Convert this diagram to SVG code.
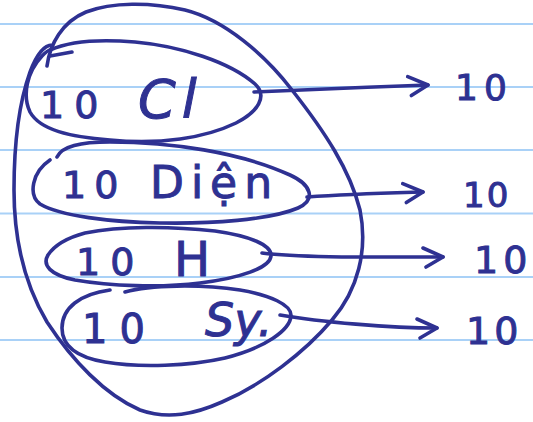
<svg xmlns="http://www.w3.org/2000/svg" width="533" height="422" viewBox="0 0 533 422">
  <defs>
    <style>
      .rule { stroke: #a9d1f7; stroke-width: 2; }
      .ink { fill: none; stroke: #2e3192; stroke-width: 3.6; stroke-linecap: round; stroke-linejoin: round; }
      .hand { fill: #2e3192; stroke: #2e3192; stroke-width: 1; font-family: "DejaVu Sans", "Liberation Sans", sans-serif; }
    </style>
    <marker id="head" markerUnits="userSpaceOnUse" markerWidth="30" markerHeight="30" refX="0" refY="0" viewBox="-24 -15 30 30" orient="auto" overflow="visible">
      <path d="M -20,-9 L 0,0 L -17,10" fill="none" stroke="#2e3192" stroke-width="3.6" stroke-linecap="round" stroke-linejoin="round"/>
    </marker>
  </defs>

  <rect width="533" height="422" fill="#ffffff"/>

  <!-- ruled paper -->
  <g id="paper">
    <line class="rule" x1="0" y1="24" x2="533" y2="24"/>
    <line class="rule" x1="0" y1="87" x2="533" y2="87"/>
    <line class="rule" x1="0" y1="150" x2="533" y2="150"/>
    <line class="rule" x1="0" y1="213.5" x2="533" y2="213.5"/>
    <line class="rule" x1="0" y1="277" x2="533" y2="277"/>
    <line class="rule" x1="0" y1="340" x2="533" y2="340"/>
  </g>

  <!-- enclosing loop around the four groups -->
  <g id="set">
    <path class="ink" d="M 47,66 C 50,44 62,22 86,12 C 112,2 150,2 185,10 C 225,20 265,55 292,90 C 325,132 350,170 360,210 C 368,250 358,290 332,320 C 305,352 262,385 222,402 C 195,414 168,420 140,410 C 105,395 72,360 47,322 C 25,285 14,240 14,190 C 14,140 20,100 30,72 C 36,56 44,45 52,45"/>
    <path class="ink" d="M 50,56 L 72,52"/>
  </g>

  <g id="group1">
    <path class="ink" d="M 50,50 C 70,41 100,39 135,42 C 180,46 230,62 255,84 C 268,96 258,112 236,123 C 205,138 160,145 110,140 C 70,137 40,130 30,112 C 22,95 27,72 42,56 C 46,52 48,50 50,50"/>
    <text class="hand" font-size="38"><tspan x="40" y="118">1</tspan><tspan dx="10">0</tspan></text>
    <text class="hand" font-size="54" letter-spacing="6" font-style="italic"><tspan x="138" y="118">Cl</tspan></text>
  </g>

  <g id="group2">
    <path class="ink" d="M 57,157 C 62,146 80,142 110,142 C 170,142 240,152 290,175 C 312,185 316,200 298,208 C 270,220 210,224 160,223 C 110,222 60,216 40,204 C 28,195 32,172 50,160"/>
    <text class="hand" font-size="38"><tspan x="62" y="198">1</tspan><tspan dx="8">0</tspan></text>
    <text class="hand" font-size="44" letter-spacing="7"><tspan x="150" y="198">Diện</tspan></text>
  </g>

  <g id="group3">
    <path class="ink" d="M 85,233 C 120,226 170,226 215,231 C 250,236 272,245 271,256 C 270,268 240,278 200,283 C 160,288 110,286 75,280 C 50,275 42,265 48,255 C 56,243 70,237 85,233"/>
    <text class="hand" font-size="38"><tspan x="76" y="275">1</tspan><tspan dx="10">0</tspan></text>
    <text class="hand" font-size="48"><tspan x="174" y="276">H</tspan></text>
  </g>

  <g id="group4">
    <path class="ink" d="M 125,292 C 150,285 200,284 240,290 C 270,295 292,305 291,316 C 290,330 265,348 225,358 C 190,366 140,368 105,362 C 75,357 62,345 62,328 C 62,308 80,294 110,290"/>
    <text class="hand" font-size="40"><tspan x="82" y="343">1</tspan><tspan dx="12">0</tspan></text>
    <text class="hand" font-size="46" font-style="italic"><tspan x="205" y="336">Sy.</tspan></text>
  </g>

  <!-- arrows to the counts -->
  <g id="connectors">
    <path class="ink" marker-end="url(#head)" d="M 254,92 C 300,90 370,87 428,85"/>
    <path class="ink" marker-end="url(#head)" d="M 307,197 C 350,194 390,193 423,192"/>
    <path class="ink" marker-end="url(#head)" d="M 262,253 C 300,258 380,257 443,257"/>
    <path class="ink" marker-end="url(#head)" d="M 280,315 C 320,322 390,328 437,328"/>
  </g>

  <g id="counts">
    <text class="hand" font-size="36"><tspan x="455" y="100">1</tspan><tspan dx="6">0</tspan></text>
    <text class="hand" font-size="34"><tspan x="463" y="207">1</tspan><tspan dx="2">0</tspan></text>
    <text class="hand" font-size="38"><tspan x="474" y="273">1</tspan><tspan dx="5">0</tspan></text>
    <text class="hand" font-size="38"><tspan x="466" y="344">1</tspan><tspan dx="4">0</tspan></text>
  </g>
</svg>
